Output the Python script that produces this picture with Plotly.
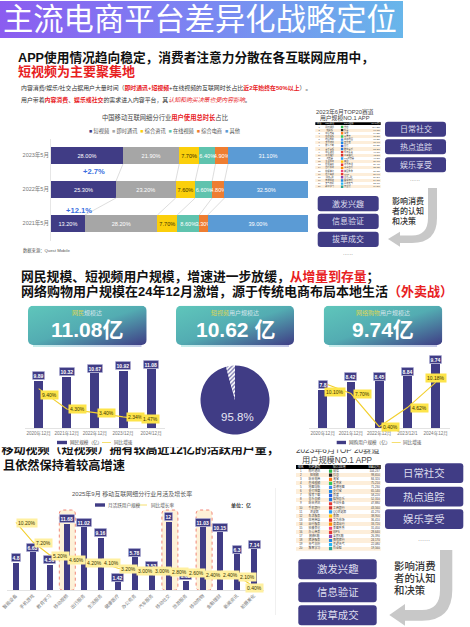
import base64
import plotly.graph_objects as go

W, H = 470, 627
FONT = "Liberation Sans, Noto Sans CJK SC"
NAVY = "#403c85"
YEL = "#fde44a"
GREY = "#777777"

# ---- data ----
share_rows = ["2021年5月", "2022年5月", "2023年5月"]
share_names = ["短视频", "即时通讯", "综合资讯", "在线视频", "综合电商", "其他"]
share_short = [13.2, 25.3, 28.0]
share_im = [28.2, 23.2, 21.9]
share_news = [7.7, 7.6, 7.7]
share_video = [8.6, 6.6, 6.4]
share_shop = [3.3, 4.8, 4.9]
share_other = [39.0, 32.5, 31.1]
share_colors = ["#403c85", "#a6a6a6", "#fbcf0b", "#5fc3ae", "#ee7d31", "#5b9bd5"]

years_a = ["2020年12月", "2021年12月", "2022年12月", "2023/12月", "2024/12月"]
netizens = [9.89, 10.32, 10.67, 10.92, 11.08]
netizens_growth = [9.40, 4.30, 3.40, 2.34, 1.47]

pie_labels = ["短视频用户占比", "其他"]
pie_values = [95.8, 4.2]

years_c = ["2020年12月", "2021年12月", "2022年12月", "2023/12/1", "2024年12月"]
shoppers = [7.82, 8.42, 8.45, 8.84, 9.74]
shoppers_labels = ["7.8", "8.42", "8.45", "8.84", "9.74"]
shoppers_growth = [10.10, 7.70, 0.40, 4.62, 10.18]

sectors = ["智能设备", "手机游戏", "教育学习", "移动视频", "出行服务", "生活服务", "健康医疗", "办公商务",
           "汽车服务", "移动社交", "旅游服务", "移动购物", "金融理财", "新闻资讯", "拍摄美化"]
sector_users = [4.8, 6.63, 4.51, 11.68, 11.02, 9.16, 1.42, 5.78, 3.53, 12, 1.63, 11.03, 10.15, 6.3, 7.14]
sector_growth = [10.2, 7.2, 5.2, 4.6, 4.2, 4.1, 3.2, 3.0, 3.0, 2.8, 2.6, 2.4, 2.4, 2.1, 0.4]
sector_highlight = ["移动视频", "移动社交", "移动购物"]

table_head = ["排名", "TOP赛道", "NO.1应用", "MAU(万)"]
table_track = ["即时通讯", "短视频", "综合电商", "在线视频", "地图导航", "支付结算", "搜索下载", "音乐音频", "综合资讯", "手机银行",
               "浏览器", "生活服务", "应用商店", "出行服务", "拍摄美化", "办公商务", "网络K歌", "旅游服务", "天气日历", "教育学习"]
table_app = ["微信", "抖音", "淘宝", "爱奇艺", "高德地图", "支付宝", "百度", "酷狗音乐", "今日头条", "工商银行",
             "QQ浏览器", "美团", "华为市场", "滴滴出行", "美图秀秀", "WPS", "全民K歌", "携程旅行", "墨迹天气", "作业帮"]
table_mau = ["104,237", "98,650", "84,320", "75,210", "71,230", "65,140", "58,220", "52,310", "47,880", "43,560",
             "41,270", "38,900", "36,410", "33,720", "31,050", "28,640", "26,390", "24,170", "22,080", "19,560"]
table_icon = ["#2dbb4e", "#222222", "#ff7a1a", "#34c759", "#3b8cf0", "#1e88e5", "#2a5fe0", "#2277dd", "#e53935", "#d32f2f",
              "#2a9df4", "#ffc400", "#e53935", "#ff8f00", "#ec407a", "#e53935", "#8e44ad", "#1e88e5", "#29b6f6", "#26a69a"]

btn_top = ["日常社交", "热点追踪", "娱乐享受"]
btn_bottom = ["激发兴趣", "信息验证", "拔草成交"]
note_lines = ["影响消费", "者的认知", "和决策"]


# ---- pixel helpers ----
def X(p): return p / W
def Y(p): return 1 - p / H
def dx(a, b): return [X(a), X(b)]
def dy(top, bottom): return [Y(bottom), Y(top)]


shapes, images, anns = [], [], []


def txt(x, y, s, size, color="#222222", anchor="center", weight=None):
    f = dict(family=FONT, size=size, color=color)
    if weight:
        f["weight"] = weight
    anns.append(dict(x=x, y=y, xref="x7", yref="y10", text=s, showarrow=False, align=anchor,
                     xanchor=anchor, yanchor="middle", font=f, borderpad=0))


def rrect_path(x0, y0, x1, y1, r):
    c = lambda a, b: f"{X(a):.5f},{Y(b):.5f}"
    return (f"M{c(x0 + r, y0)} L{c(x1 - r, y0)} Q{c(x1, y0)} {c(x1, y0 + r)} L{c(x1, y1 - r)} "
            f"Q{c(x1, y1)} {c(x1 - r, y1)} L{c(x0 + r, y1)} Q{c(x0, y1)} {c(x0, y1 - r)} "
            f"L{c(x0, y0 + r)} Q{c(x0, y0)} {c(x0 + r, y0)} Z")


def rrect(x0, y0, x1, y1, r, fill, line=None, dash=None, layer="below"):
    shapes.append(dict(type="path", xref="paper", yref="paper", path=rrect_path(x0, y0, x1, y1, r),
                       fillcolor=fill, layer=layer,
                       line=dict(width=0.8 if line else 0, color=line or fill, dash=dash or "solid")))


def box(x0, y0, x1, y1, fill, layer="below"):
    shapes.append(dict(type="rect", xref="paper", yref="paper", x0=X(x0), x1=X(x1), y0=Y(y1), y1=Y(y0),
                       fillcolor=fill, line=dict(width=0), layer=layer))


def gradient(x0, y0, x1, y1, stops, diag=False, radius=0):
    w, h = x1 - x0, y1 - y0
    st = "".join(f'<stop offset="{o}" stop-color="{c}"/>' for o, c in stops)
    end = 'x2="1" y2="1"' if diag else 'x2="1" y2="0"'
    svg = (f'<svg xmlns="http://www.w3.org/2000/svg" width="{w:.1f}" height="{h:.1f}" viewBox="0 0 {w:.1f} {h:.1f}" '
           f'preserveAspectRatio="none"><defs><linearGradient id="g" x1="0" y1="0" {end}>{st}</linearGradient></defs>'
           f'<rect width="{w:.1f}" height="{h:.1f}" rx="{radius}" fill="url(#g)"/></svg>')
    src = "data:image/svg+xml;base64," + base64.b64encode(svg.encode()).decode()
    images.append(dict(source=src, xref="paper", yref="paper", x=X(x0), y=Y(y0), sizex=w / W, sizey=h / H,
                       sizing="stretch", xanchor="left", yanchor="top", layer="below"))


def arrow(p, color="#c8c8c8"):
    parts = []
    for cmd, pts in p:
        parts.append(cmd + " ".join(f"{X(a):.5f},{Y(b):.5f}" for a, b in pts))
    shapes.append(dict(type="path", xref="paper", yref="paper", path=" ".join(parts) + " Z",
                       fillcolor=color, line=dict(width=0), layer="below"))


fig = go.Figure()

# ---- banner and headings ----
gradient(0, 1, 403, 38, [(0, "#8b5cf0"), (0.5, "#7b86f2"), (1, "#68b6ea")])
txt(200, 19.5, "主流电商平台差异化战略定位", 30.3, "#ffffff")
txt(17, 57, "APP使用情况趋向稳定，消费者注意力分散在各互联网应用中，", 12.7, "#111111", "left", 600)
txt(17, 71.5, "短视频为主要聚集地", 13, "#e8201e", "left", 700)
R = '<span style="color:#e8201e">'
txt(20, 87.5, f"内容消费/娱乐/社交占据用户大量时间（{R}<b>即时通讯+短视频</b></span>+在线视频的互联网时长占比{R}<b>近2年始终在50%以上</b></span>）。",
    5.9, "#333333", "left")
txt(20, 99.5, f"用户带着{R}<b>内容消费</b></span>、{R}<b>娱乐或社交</b></span>的需求进入内容平台，其{R}<i>认知和购买决策也受内容影响</i></span>。",
    5.9, "#333333", "left")

txt(165, 117.7, f'中国移动互联网细分行业{R}<b>用户使用总时长</b></span>占比', 6.3, "#444444")
leg = "  ".join(f'<span style="color:{c}">■</span> {n}' for c, n in zip(share_colors, share_names))
txt(164, 130.7, leg, 5.2, "#555555")
txt(22, 250.7, "数据来源：Quest Mobile", 4.3, "#555555", "left")

# ---- stacked share bars ----
series = [share_short, share_im, share_news, share_video, share_shop, share_other]
row_pos = list(range(len(share_rows)))
for name, vals, col in zip(share_names, series, share_colors):
    fig.add_trace(go.Bar(y=row_pos, x=vals, orientation="h", name=name, width=0.5, xaxis="x", yaxis="y",
                         marker=dict(color=col, line=dict(width=0)), text=vals, texttemplate="%{x:.2f}%",
                         textposition="inside", insidetextanchor="middle", textangle=0, constraintext="none",
                         cliponaxis=False,
                         textfont=dict(family=FONT, size=5.6, color="#3a3300" if col == "#fbcf0b" else "#ffffff")))
cum = [0.0] * len(row_pos)
for vals in series[:-1]:
    cum = [c + v for c, v in zip(cum, vals)]
    lx, ly = [], []
    for r in row_pos[:-1]:
        lx += [cum[r], cum[r + 1], None]
        ly += [r + 0.25, r + 0.75, None]
    fig.add_trace(go.Scatter(x=lx, y=ly, mode="lines", xaxis="x", yaxis="y", hoverinfo="skip",
                             line=dict(color="#cfcfcf", width=0.7)))
txt(94, 171, "+2.7%", 7.6, "#3a6fe0", "center", 700)
txt(78.5, 210, "+12.1%", 7.6, "#3a6fe0", "center", 700)


# ---- top-20 tables ----
def draw_table(xa, ya, size, icon):
    ranks = list(range(1, len(table_track) + 1))
    fig.add_trace(go.Bar(y=[0] + ranks, x=[100] * (len(ranks) + 1), base=0, orientation="h", width=1, xaxis=xa, yaxis=ya,
                         marker=dict(color=["#000000"] + ["#fdeeda" if r % 2 == 0 else "#ffffff" for r in ranks],
                                     line=dict(width=0)), hoverinfo="skip"))
    cols = [(6, "middle center", [table_head[0]] + [str(r) for r in ranks]),
            (22, "middle center", [table_head[1]] + table_track),
            (44, "middle right", [table_head[2]] + table_app)]
    for cx, pos, labels in cols:
        fig.add_trace(go.Scatter(x=[cx] * 21, y=[0] + ranks, mode="text", text=labels, textposition=pos, xaxis=xa, yaxis=ya,
                                 hoverinfo="skip", textfont=dict(family=FONT, size=size,
                                                                 color=["#ffffff"] + ["#444444"] * 20)))
    fig.add_trace(go.Scatter(x=[99] * 21, y=[0] + ranks, mode="text", text=[table_head[3]] + table_mau,
                             textposition="middle left", xaxis=xa, yaxis=ya, hoverinfo="skip",
                             textfont=dict(family=FONT, size=size, color=["#ffffff"] + ["#444444"] * 20)))
    fig.add_trace(go.Scatter(x=[41] * 20, y=ranks, mode="markers", xaxis=xa, yaxis=ya, hoverinfo="skip",
                             marker=dict(symbol="square", size=icon, color=table_icon, line=dict(width=0))))


draw_table("x5", "y8", 2.2, 2.4)
draw_table("x6", "y9", 2.9, 3.2)
txt(345, 111.7, "2023年6月TOP20赛道", 5.8, "#444444")
txt(345, 118, "用户规模NO.1 APP", 5.8, "#444444")
txt(337.7, 459.5, "用户规模NO.1 APP", 8.2, "#444444")


# ---- buttons and arrows ----
def buttons(labels, x0, x1, tops, h, size):
    for lab, t in zip(labels, tops):
        rrect(x0, t, x1, t + h, 3, NAVY)
        txt((x0 + x1) / 2, t + h / 2, lab, size, "#dedeee")


buttons(btn_top, 385, 446, [121.7, 139.3, 157.3], 15, 8)
buttons(btn_bottom, 317.7, 378.7, [196, 213.7, 231.7], 15.2, 8)
buttons(btn_top, 385, 463.3, [463.3, 486.7, 509.3], 19.7, 10.4)
buttons(btn_bottom, 298.3, 376.7, [559.3, 582.3, 605.3], 20, 10.4)
txt(415, 179.7, "······", 5, "#555555")
txt(347.7, 254.3, "······", 5, "#555555")
txt(424, 539.7, "······", 6, "#555555")
for i, s in enumerate(note_lines):
    txt(391, 200.5 + i * 10, s, 8, "#333333", "left", 500)
    txt(392.5, 565.7 + i * 12.2, s, 10.4, "#333333", "left", 500)
arrow([("M", [(428, 188)]), ("L", [(437, 188)]), ("L", [(437, 218)]), ("Q", [(437, 243), (412, 243)]),
       ("L", [(400, 243)]), ("L", [(400, 246.7)]), ("L", [(388, 239)]), ("L", [(400, 231.7)]), ("L", [(400, 235.5)]),
       ("L", [(412, 235.5)]), ("Q", [(428, 235.5), (428, 218)])])
arrow([("M", [(440, 550)]), ("L", [(452.3, 550)]), ("L", [(452.3, 590)]), ("Q", [(452.3, 620.7), (422, 620.7)]),
       ("L", [(405, 620.7)]), ("L", [(405, 625.7)]), ("L", [(389.3, 615)]), ("L", [(405, 604)]), ("L", [(405, 610)]),
       ("L", [(422, 610)]), ("Q", [(440, 610), (440, 590)])])

# ---- second heading and cards ----
txt(20, 276.7, f'网民规模、短视频用户规模，增速进一步放缓，{R}从增量到存量</span>；', 12.8, "#111111", "left", 600)
txt(20, 291, f'网络购物用户规模在24年12月激增，源于传统电商布局本地生活{R}（外卖战）</span>', 13, "#111111", "left", 600)

card_stops = [(0, "#5fc6bb"), (0.5, "#53acb2"), (1, "#3f3d85")]
GOLD = '<span style="color:#d9d45a">'
cards = [(28, 146.7, f"{GOLD}网民</span>规模达", "11.08亿"),
         (176, 294, f"{GOLD}短视频</span>用户规模达", "10.62 亿"),
         (323.7, 442.3, f"{GOLD}网络购物</span>用户规模达", "9.74亿")]
for x0, x1, lab, big in cards:
    gradient(x0 + 5, 340, x1 - 5, 347, [(0, "#c6eeeb"), (1, "#c3c6e6")])
    gradient(x0, 305.7, x1, 345, card_stops, diag=True, radius=5)
    txt((x0 + x1) / 2, 312.5, lab, 6, "#d4e6ec")
    txt((x0 + x1) / 2, 329, big, 21, "#ffffff", "center", 700)


# ---- combo charts ----
def combo(cats, vals, growth, labels, xa, ya, yb, width, xoff=(), yoff=(), lab_size=5.0):
    fig.add_trace(go.Bar(x=cats, y=vals, width=width, xaxis=xa, yaxis=ya, marker=dict(color=NAVY, line=dict(width=0))))
    fig.add_trace(go.Scatter(x=cats, y=growth, mode="lines", xaxis=xa, yaxis=yb, cliponaxis=False,
                             line=dict(color="#f2cf2e", width=1.1)))
    for c, v, l in zip(cats, vals, labels):
        anns.append(dict(x=c, y=v, xref=xa, yref=ya, text=f"<b>{l}</b>", showarrow=False, yshift=5,
                         font=dict(family=FONT, size=lab_size, color="#ffffff"), bgcolor=NAVY, bordercolor="#c9c8e4",
                         borderwidth=0.6, borderpad=1))
    for i, (c, g) in enumerate(zip(cats, growth)):
        anns.append(dict(x=c, y=g, xref=xa, yref=yb, text=f"{g:.2f}%", showarrow=False,
                         xshift=xoff[i], yshift=yoff[i], font=dict(family=FONT, size=lab_size, color="#3a3300"),
                         bgcolor="#fff0a0" if xa == "x4" else YEL, borderpad=1))


combo(years_a, netizens, netizens_growth, [f"{v:.2f}" for v in netizens], "x2", "y2", "y3", 0.32,
      xoff=[10.5, 10.5, 12, 12.3, -1], yoff=[-6, 0, 0, 0, 1])
combo(years_c, shoppers, shoppers_growth, shoppers_labels, "x3", "y4", "y5", 0.31,
      xoff=[12.3, 11.7, 11.7, 11.7, 0], yoff=[-9, 0, 0, 0, 4])

# pie
fig.add_trace(go.Pie(labels=pie_labels, values=pie_values, sort=False, direction="clockwise", rotation=0, textinfo="none",
                     domain=dict(x=dx(200, 270), y=dy(365.5, 434.5)), showlegend=False,
                     marker=dict(colors=[NAVY, "#ffffff"], line=dict(width=0),
                                 pattern=dict(shape=["", "/"], fgcolor=[NAVY, "#6f6ca8"], bgcolor=[NAVY, "#ffffff"],
                                              size=3, solidity=0.4))))
txt(237, 416.5, f"{pie_values[0]}%", 11.5, "#e6e6f4")

# ---- bottom chart ----
S0, STEP = 16.0, 17.1
for name in sector_highlight:
    i = sectors.index(name)
    c = S0 + STEP * i
    rrect(c - 8, 510, c + 8, 590.3, 4, "#fdf1d8", "#ee6a5a", "dot")
txt(132, 493.7, "2025年9月 移动互联网细分行业月活及增长率", 6, "#555555")
combo(sectors, sector_users, sector_growth, [f"{v:g}" for v in sector_users], "x4", "y6", "y7", 0.33,
      xoff=[11.5, 10.5, 10.5, 10, 10.3, 10.3, 10.6, 10.3, 10.3, 10.7, 11, 10.7, 11, 10.7, 0.5], yoff=[-1] * 15)

# heading 3, first line cut by a white band
fig.add_trace(go.Scatter(x=[1.5], y=[451.3], mode="text", text=["移动视频（短视频）拥有较高近12亿的活跃用户量，"],
                         textposition="middle right", xaxis="x7", yaxis="y10", hoverinfo="skip",
                         textfont=dict(family=FONT, size=12, color="#111111", weight=600)))
fig.add_trace(go.Scatter(x=[337.7], y=[450.5], mode="text", text=["2023年6月TOP 20赛道"],
                         textposition="middle center", xaxis="x7", yaxis="y10", hoverinfo="skip",
                         textfont=dict(family=FONT, size=8.2, color="#444444")))
box(0, 437.5, 290, 447.3, "#ffffff", "above")
box(290, 437.5, 470, 449.5, "#ffffff", "above")
txt(2, 465.7, "且依然保持着较高增速", 12.2, "#111111", "left", 600)


def legend(sw0, sw1, line0, line1, y, t1x, t1, t2x, t2, size=4.6):
    box(sw0, y - 1.7, sw1, y + 1.7, NAVY, "above")
    shapes.append(dict(type="line", xref="paper", yref="paper", x0=X(line0), x1=X(line1), y0=Y(y), y1=Y(y),
                       line=dict(color="#f6df70", width=1), layer="above"))
    txt(t1x, y, t1, size, "#555555", "left")
    txt(t2x, y, t2, size, "#555555", "left")


legend(57, 67, 102, 111, 442.5, 69, "网民规模（亿）", 113, "同比增速")
legend(336.7, 346, 391.7, 400.7, 442.5, 348, "网购用户规模（亿）", 402, "同比增速")
legend(95, 105, 137.7, 147, 505, 106.5, "月活跃用户规模", 149.5, "同比增长率")
txt(230, 505, "<b>单位：亿</b>", 5, "#333333", "left")

# faint panel edge on bottom chart
shapes.append(dict(type="line", xref="paper", yref="paper", x0=X(275.5), x1=X(275.5), y0=Y(615), y1=Y(488),
                   line=dict(color="#f0f0f0", width=1)))


def cat_axis(dom, size=4.6, angle=0, color="#e3e3e3"):
    return dict(domain=dom, type="category", showgrid=False, showline=True, linecolor=color, linewidth=1,
                ticks="", ticklen=0, tickangle=angle, tickfont=dict(family=FONT, size=size, color=GREY), zeroline=False,
                fixedrange=True, automargin=False)


def val_axis(dom, rng):
    return dict(domain=dom, range=rng, visible=False, fixedrange=True)


def over_axis(base, rng):
    return dict(overlaying=base, range=rng, visible=False, fixedrange=True, anchor="free", position=0)


def page_axis(dom, rng):
    return dict(domain=dom, range=rng, visible=False, fixedrange=True, showgrid=False, zeroline=False)


fig.update_layout(
    width=W, height=H, autosize=False, margin=dict(l=0, r=0, t=0, b=0, pad=0, autoexpand=False), showlegend=False,
    paper_bgcolor="#ffffff", plot_bgcolor="rgba(0,0,0,0)", barmode="stack", hovermode=False,
    xaxis=dict(domain=dx(51, 308), range=[0, 100], visible=False, fixedrange=True),
    yaxis=dict(domain=dy(138.5, 240.5), range=[-0.5, 2.5], tickvals=row_pos, ticktext=share_rows, showgrid=False,
               zeroline=False, showline=True, linecolor="#e6e6e6", linewidth=1, ticks="", anchor="x", fixedrange=True,
               tickfont=dict(family=FONT, size=5.5, color=GREY)),
    xaxis2=dict(**cat_axis(dx(24.6, 165.2)), anchor="y2"),
    yaxis2=val_axis(dy(360, 428.3), [4.9, 12.05]),
    yaxis3=over_axis("y2", [-0.525, 16.55]),
    xaxis3=dict(**cat_axis(dx(308.6, 449.8)), anchor="y4"),
    yaxis4=val_axis(dy(358, 428.3), [4.98, 10.19]),
    yaxis5=over_axis("y4", [0.05, 15.53]),
    xaxis4=dict(**cat_axis(dx(7.45, 264), 4.6, -45), anchor="y6"),
    yaxis6=val_axis(dy(510, 590.3), [0, 14.04]),
    yaxis7=over_axis("y6", [-0.15, 12.07]),
    xaxis5=dict(domain=dx(315.3, 380.7), range=[0, 100], visible=False, fixedrange=True, anchor="y8"),
    yaxis8=dict(domain=dy(122.3, 188.3), range=[20.5, -0.5], visible=False, fixedrange=True, anchor="x5"),
    xaxis6=dict(domain=dx(295.7, 380.7), range=[0, 100], visible=False, fixedrange=True, anchor="y9"),
    yaxis9=dict(domain=dy(465, 550.7), range=[20.5, -0.5], visible=False, fixedrange=True, anchor="x6"),
    xaxis7=dict(**page_axis([0, 1], [0, W]), anchor="y10"),
    yaxis10=dict(**page_axis([0, 1], [H, 0]), anchor="x7"),
    shapes=shapes, images=images, annotations=anns,
)
fig.update_traces(hoverinfo="skip")

fig.write_html("out.html", config=dict(displayModeBar=False, responsive=False),
               post_script="document.body.style.margin='0';document.body.style.overflow='hidden';")
